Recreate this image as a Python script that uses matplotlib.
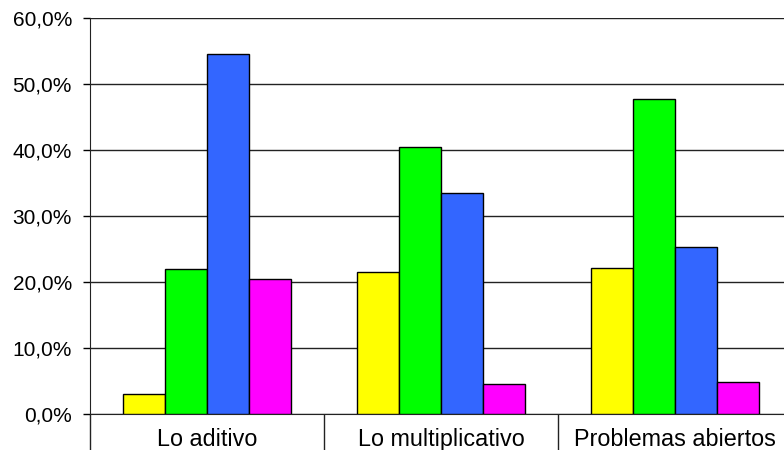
import numpy as np
import matplotlib.pyplot as plt
from matplotlib.ticker import FuncFormatter

categories = ["Lo aditivo", "Lo multiplicativo", "Problemas abiertos"]
serie_amarilla = [3.1, 21.5, 22.1]
serie_verde = [21.9, 40.4, 47.8]
serie_azul = [54.5, 33.5, 25.3]
serie_magenta = [20.5, 4.5, 4.9]

series = [serie_amarilla, serie_verde, serie_azul, serie_magenta]
colores = ["#FFFF00", "#00FF00", "#3366FF", "#FF00FF"]

plt.rcParams['font.family'] = ['Liberation Sans', 'DejaVu Sans']

fig = plt.figure(figsize=(7.84, 4.5), dpi=100)
# axes run a bit past the right edge, like the original crop
ax = fig.add_axes([90 / 784, 36 / 450, 702 / 784, 396 / 450])

x = np.arange(len(categories))
w = 0.18
for i, (vals, c) in enumerate(zip(series, colores)):
    ax.bar(x + (i - 1.5) * w, vals, w, color=c, edgecolor="black", linewidth=1, zorder=3)

ax.set_xlim(-0.5, 2.5)
ax.set_ylim(0, 60)
ax.set_yticks(np.arange(0, 61, 10))
ax.yaxis.set_major_formatter(FuncFormatter(lambda v, p: f"{v:.1f}%".replace(".", ",")))
ax.yaxis.grid(True, color="#222222", linewidth=1)
ax.set_axisbelow(True)

ax.set_xticks(x)
ax.set_xticklabels(categories, fontsize=16.8)
ax.set_xticks([-0.5, 0.5, 1.5, 2.5], minor=True)
ax.tick_params(axis="x", which="major", length=0, pad=10)
ax.tick_params(axis="x", which="minor", length=27, width=1, color="#222222", direction="out")
ax.tick_params(axis="y", length=5, width=1, labelsize=15, pad=8)

for s in ["top", "right"]:
    ax.spines[s].set_visible(False)
ax.spines["left"].set_color("#222222")
ax.spines["bottom"].set_color("#222222")

fig.savefig("out.png", dpi=100)
